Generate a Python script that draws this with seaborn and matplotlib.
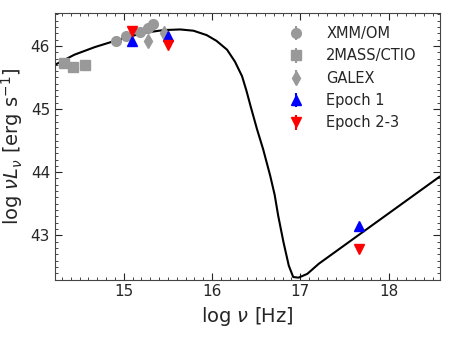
import numpy as np
import pandas as pd
import seaborn as sns
import matplotlib.pyplot as plt
from matplotlib.ticker import MultipleLocator

# model SED curve
model_x = [14.22, 14.44, 14.67, 14.9, 15.1, 15.25, 15.45, 15.64, 15.79, 15.94,
           16.05, 16.17, 16.26, 16.34, 16.39, 16.44, 16.51, 16.58, 16.66, 16.71,
           16.75, 16.81, 16.87, 16.92, 16.98, 17.08, 17.21, 18.58]
model_y = [45.70, 45.86, 45.98, 46.08, 46.16, 46.21, 46.25, 46.26, 46.24, 46.17,
           46.08, 45.94, 45.75, 45.52, 45.29, 45.03, 44.68, 44.36, 43.94, 43.64,
           43.31, 42.89, 42.52, 42.34, 42.33, 42.39, 42.55, 43.93]

xmm_x = [14.91, 15.02, 15.18, 15.28, 15.33]
xmm_y = [46.07, 46.16, 46.22, 46.29, 46.35]
mass_x = [14.32, 14.43, 14.56]
mass_y = [45.73, 45.67, 45.69]
galex_x = [15.28, 15.46]
galex_y = [46.08, 46.21]
ep1_x = [15.09, 15.5, 17.67]
ep1_y = [46.07, 46.16, 43.14]
ep23_x = [15.09, 15.5, 17.67]
ep23_y = [46.24, 46.02, 42.78]

sns.set_style("ticks")
fig, ax = plt.subplots(figsize=(4.58, 3.43), dpi=100)

model = pd.DataFrame({"x": model_x, "y": model_y})
sns.lineplot(data=model, x="x", y="y", color="black", lw=1.5, sort=False, ax=ax)

gray = "#999999"
ax.errorbar(xmm_x, xmm_y, yerr=0.03, fmt="o", color=gray, ms=7, label="XMM/OM")
ax.errorbar(mass_x, mass_y, yerr=0.03, fmt="s", color=gray, ms=7, label="2MASS/CTIO")
ax.errorbar(galex_x, galex_y, yerr=0.03, fmt="d", color=gray, ms=7, label="GALEX")
ax.errorbar(ep1_x, ep1_y, yerr=0.03, fmt="^", color="blue", ms=7, label="Epoch 1")
ax.errorbar(ep23_x, ep23_y, yerr=0.03, fmt="v", color="red", ms=7, label="Epoch 2-3")

ax.set_xlim(14.22, 18.58)
ax.set_ylim(42.3, 46.52)
ax.xaxis.set_major_locator(MultipleLocator(1))
ax.xaxis.set_minor_locator(MultipleLocator(0.1))
ax.yaxis.set_major_locator(MultipleLocator(1))
ax.yaxis.set_minor_locator(MultipleLocator(0.1))
ax.tick_params(which="both", direction="in", top=True, right=True, labelsize=11)
ax.tick_params(which="major", length=5)
ax.tick_params(which="minor", length=2.5)
for s in ax.spines.values():
    s.set_color("#444444")

ax.set_xlabel(r"log $\nu$ [Hz]", fontsize=14)
ax.set_ylabel(r"log $\nu L_\nu$ [erg s$^{-1}$]", fontsize=14)
ax.legend(loc="upper right", bbox_to_anchor=(0.975, 1.0), frameon=False,
          fontsize=10.5, handlelength=1.2, borderaxespad=0.5, handletextpad=1.5)

plt.subplots_adjust(left=0.12, right=0.96, bottom=0.185, top=0.962)
plt.savefig("out.png")
plt.close()
